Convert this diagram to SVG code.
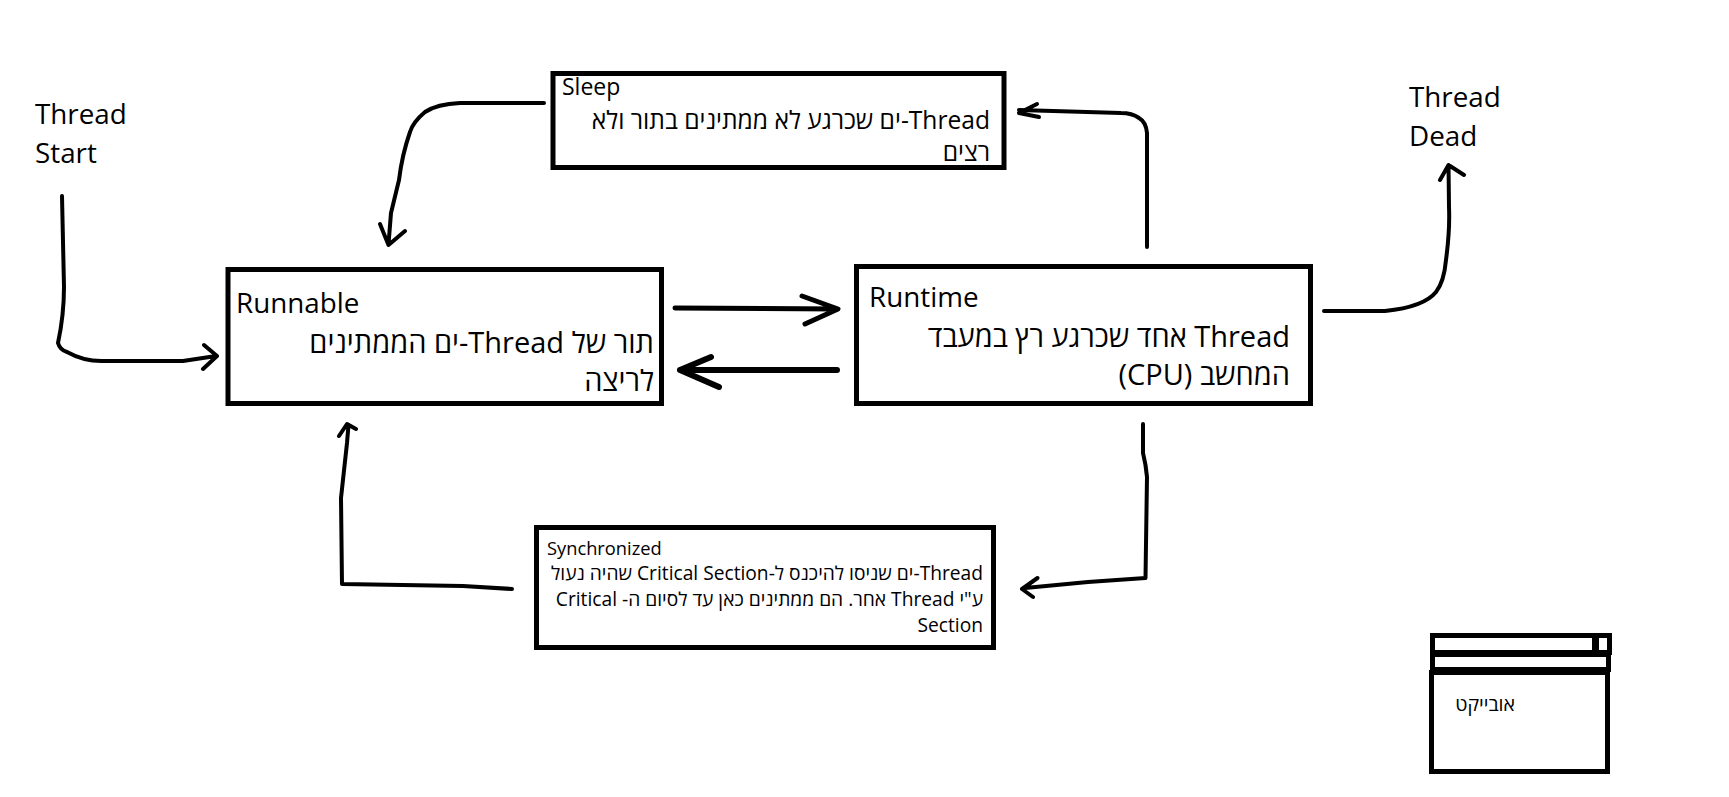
<svg xmlns="http://www.w3.org/2000/svg" width="1729" height="797" viewBox="0 0 1729 797">
<style>
text{font-family:"Open Sans","Noto Sans","Liberation Sans","DejaVu Sans",sans-serif;fill:#000}
.box{fill:#fff;stroke:#000;stroke-width:5}
.big{font-size:27.800px}.bigr{font-size:29px}.mid{font-size:23px}.midr{font-size:24.600px}.small{font-size:18.300px}.smallr{font-size:19.200px}.obj{font-size:19.500px}
.rtl{direction:rtl;text-anchor:start}
.c{fill:none;stroke:#000;stroke-width:4;stroke-linecap:round;stroke-linejoin:round}
</style>
<rect width="1729" height="797" fill="#fff"/>
<g id="connectors">
<path class="c" d="M62 196L64 287Q64 315 58 343Q60 350 67 352Q85 362 105 361H183L216 356M204 345L217 356L203 369"/>
<path class="c" d="M544 103H460Q437 104 425 112Q413 122 410 132Q402 155 399 180L391 213L388.500 244M380 224L388.500 245L405 231"/>
<path class="c" style="stroke-width:5" d="M675 308L838 309M802 296L838 309L805 324"/>
<path class="c" style="stroke-width:6" d="M837 370H680M711 357L680 370L719 387"/>
<path class="c" d="M1147 247V133Q1146 122 1139 118Q1132 113 1121 113L1019 110M1037 104L1019 113L1039 117"/>
<path class="c" d="M1324 311H1385Q1424 307 1436 292Q1444 282 1446 260Q1450 230 1449 207L1448.500 165M1440 180L1448.500 165L1464 175"/>
<path class="c" d="M1143 424V453Q1146 465 1147 477L1145.500 578L1088 582L1025 588M1037.500 578L1022 589L1033 597"/>
<path class="c" d="M512 589L463 586L342 584L341 498L347 443L348.500 425M339 436L347 424L356 429"/>
</g>
<g id="thread-start"><text class="big" x="35" y="124">Thread</text><text class="big" x="35" y="163">Start</text></g>
<g id="thread-dead"><text class="big" x="1409" y="107">Thread</text><text class="big" x="1409" y="146">Dead</text></g>
<g id="sleep"><rect class="box" x="553" y="73.500" width="451" height="94"/>
<text class="mid" x="562" y="95">Sleep</text>
<text class="midr rtl" x="990" y="129">Thread-ים שכרגע לא ממתינים בתור ולא</text>
<text class="midr rtl" x="990" y="161">רצים</text></g>
<g id="runnable"><rect class="box" x="228" y="269.500" width="433.500" height="134"/>
<text class="big" x="236" y="313">Runnable</text>
<text class="bigr rtl" x="654" y="353">תור של Thread-ים הממתינים</text>
<text class="bigr rtl" x="654" y="391">לריצה</text></g>
<g id="runtime"><rect class="box" x="856.500" y="266.500" width="454" height="137"/>
<text class="big" x="869" y="307">Runtime</text>
<text class="bigr rtl" x="1290" y="347">Thread אחד שכרגע רץ במעבד</text>
<text class="bigr rtl" x="1290" y="385">המחשב (CPU)</text></g>
<g id="synchronized"><rect class="box" x="536.500" y="527.500" width="457" height="120"/>
<text class="small" x="547" y="555">Synchronized</text>
<text class="smallr rtl" x="983" y="580">Thread-ים שניסו להיכנס ל-Critical Section שהיה נעול</text>
<text class="smallr rtl" x="983" y="606">ע"י Thread אחר. הם ממתינים כאן עד לסיום ה- Critical</text>
<text class="smallr rtl" x="983" y="632">Section</text></g>
<g id="object">
<rect class="box" x="1432.500" y="635.500" width="177" height="17"/>
<rect class="box" x="1432.500" y="654.500" width="176" height="15"/>
<rect class="box" x="1431.500" y="672.500" width="176" height="99"/>
<path d="M1595.500 636V652" stroke="#000" stroke-width="7"/>
<text class="obj rtl" x="1515" y="711">אובייקט</text>
</g>
</svg>
